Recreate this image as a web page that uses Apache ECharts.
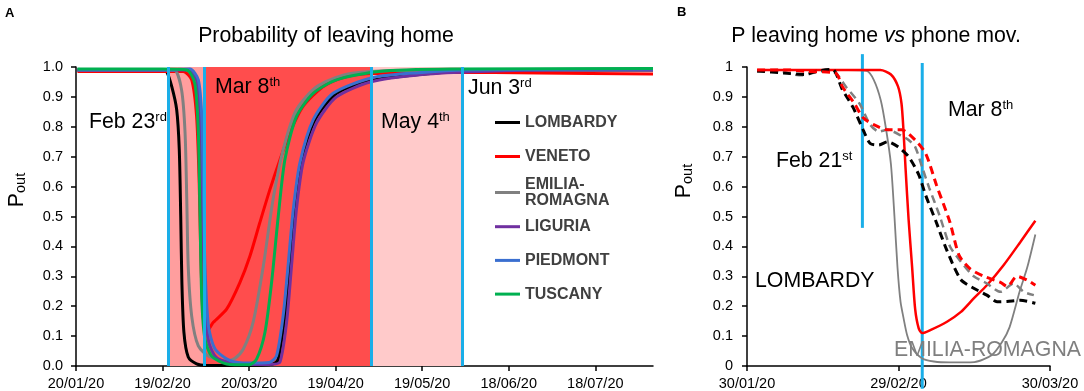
<!DOCTYPE html>
<html><head><meta charset="utf-8">
<script src="https://cdn.jsdelivr.net/npm/echarts@6/dist/echarts.min.js"></script>
<style>html,body{margin:0;padding:0;background:#fff}#c{width:1084px;height:391px}</style>
</head><body><div id="c"></div>
<script>
const FONT = '"Liberation Sans", Arial, Helvetica, sans-serif';

// ---------- Panel A: days since 20/01/20 ----------
const xTickLabelsA = ['20/01/20','19/02/20','20/03/20','19/04/20','19/05/20','18/06/20','18/07/20'];
const regionNames = ['LOMBARDY','VENETO','EMILIA-\nROMAGNA','LIGURIA','PIEDMONT','TUSCANY'];
const regionColors = ['#000000','#ff0000','#808080','#7030a0','#3a6fd0','#00b050'];
const eventDaysA = [32, 44.4, 102.3, 134];
const phaseColorsA = ['#ff9e9e','#ff4d4d','#ffcaca'];

const lombardyA = [[0.5,0.99],[20,0.99],[30,0.99],[31.4,0.985],[33.2,0.934],[34.9,0.857],[35.8,0.723],[36.3,0.5],[36.7,0.28],[37.4,0.113],[38.9,0.03],[41.8,0.007],[45,0.002],[60,0.002],[67,0.004],[69,0.01],[70.1,0.023],[72.4,0.168],[74.1,0.334],[75.8,0.523],[78.2,0.69],[82.8,0.823],[90.3,0.912],[102,0.955],[119,0.975],[133,0.985],[160,0.99],[200,0.99]];
const venetoA = [[0.5,0.985],[30,0.985],[37.2,0.985],[40.1,0.957],[41.8,0.834],[42.7,0.613],[43.2,0.39],[43.9,0.19],[44.6,0.125],[45.3,0.115],[47.6,0.146],[52.2,0.19],[56.8,0.279],[60.3,0.368],[63.7,0.479],[67.2,0.59],[70.7,0.69],[74.1,0.779],[78.7,0.868],[85.6,0.934],[92.6,0.965],[102,0.978],[130,0.982],[160,0.98],[200,0.977]];
const emiliaA = [[0.5,0.99],[30,0.99],[34.3,0.988],[36.6,0.923],[37.8,0.78],[38.4,0.557],[38.9,0.333],[40.1,0.167],[42.4,0.067],[46.4,0.03],[52.2,0.017],[55,0.025],[58,0.057],[61.4,0.147],[64.9,0.333],[68.3,0.557],[71.8,0.723],[76.4,0.857],[83.4,0.934],[92.6,0.973],[102,0.985],[120,0.99],[200,0.993]];
const liguriaA = [[0.5,0.99],[30,0.99],[39,0.99],[41.8,0.955],[43,0.834],[43.6,0.613],[44.1,0.39],[44.8,0.19],[46,0.08],[48.5,0.03],[53,0.012],[60,0.005],[68,0.006],[70.7,0.013],[73,0.147],[74.7,0.334],[76.4,0.523],[78.7,0.68],[83.4,0.813],[90.3,0.9],[102,0.95],[120,0.975],[140,0.985],[170,0.99],[200,0.99]];
const piedmontA = [[0.5,0.99],[30,0.99],[39.5,0.993],[42.4,0.957],[43.6,0.834],[44.1,0.613],[44.7,0.334],[45.9,0.134],[48.2,0.057],[53.4,0.018],[60,0.01],[67,0.012],[69.5,0.034],[71.8,0.168],[73.5,0.334],[75.3,0.523],[77.6,0.679],[82.2,0.823],[89.1,0.912],[103,0.965],[120,0.982],[135,0.99],[200,0.993]];
const tuscanyA = [[0.5,0.993],[30,0.993],[38.4,0.99],[41.2,0.945],[42.4,0.78],[43,0.5],[43.6,0.223],[44.7,0.09],[47,0.033],[52.2,0.007],[60,0.004],[62.6,0.023],[65.5,0.113],[67.8,0.28],[70.1,0.5],[72.4,0.69],[76.4,0.834],[82.2,0.912],[90.3,0.957],[105,0.985],[130,0.993],[200,0.995]];

// ---------- Panel B: days since 30/01/20 ----------
const xTickLabelsB = ['30/01/20','29/02/20','30/03/20'];
const feb21LineB = [[22.85,1.043],[22.85,0.462]];
const mar8LineB = [[34.7,1.013],[34.7,-0.076]];
const venetoModelB = [[2,0.99],[20,0.99],[26.4,0.99],[28.5,0.975],[29.9,0.935],[30.6,0.877],[31,0.784],[31.4,0.66],[32,0.49],[32.7,0.33],[33.3,0.19],[34,0.126],[34.7,0.11],[36.3,0.12],[39.6,0.148],[42.3,0.18],[44.9,0.226],[47.5,0.27],[50.8,0.337],[54.1,0.414],[57.1,0.486]];
const emiliaModelB = [[2,0.99],[20,0.99],[23.7,0.987],[25.1,0.957],[26.5,0.888],[27.5,0.796],[28.5,0.675],[29.2,0.5],[29.8,0.33],[30.4,0.215],[31,0.16],[31.7,0.104],[32.7,0.06],[34.7,0.025],[37,0.015],[40.2,0.012],[45,0.013],[48.5,0.037],[50.5,0.08],[52,0.13],[54,0.25],[55.5,0.33],[57.1,0.44]];
const lombardyDataB = [[2,0.987],[7.2,0.98],[11.4,0.975],[14.1,0.987],[16.9,0.992],[18.9,0.924],[21,0.865],[23,0.79],[24.4,0.744],[26.1,0.739],[27.8,0.75],[29.9,0.733],[32,0.70],[34,0.64],[35.4,0.57],[37.5,0.48],[39.5,0.39],[42.3,0.29],[44.9,0.26],[47.5,0.237],[49.5,0.215],[51.5,0.216],[54.1,0.22],[57.1,0.21]];
const venetoDataB = [[2,0.99],[8,0.99],[12,0.985],[17.5,0.98],[18.9,0.934],[21.3,0.877],[23,0.83],[25.1,0.807],[27.8,0.79],[30.6,0.79],[33.3,0.756],[35.4,0.71],[37.5,0.606],[40.2,0.48],[42,0.37],[44.2,0.325],[46.9,0.30],[50.2,0.28],[51.5,0.266],[53.5,0.30],[55.5,0.287],[57.1,0.27]];
const emiliaDataB = [[2,0.985],[6,0.99],[9,0.975],[11,0.972],[13,0.98],[15,0.985],[17.5,0.98],[19.6,0.934],[22.3,0.877],[24.4,0.807],[26.1,0.784],[27.8,0.79],[30.6,0.77],[32,0.756],[33.3,0.733],[34.7,0.664],[36.1,0.595],[38.2,0.50],[40.2,0.40],[42.3,0.35],[44.9,0.30],[47.5,0.276],[50.2,0.248],[52.8,0.276],[54.8,0.248],[56.8,0.237]];

const BLUE = '#1aaee8';
const chart = echarts.init(document.getElementById('c'), null, {renderer:'canvas'});

const axisLineStyle = {lineStyle:{color:'#000', width:1.5}};
const labelStyle = {color:'#000', fontSize:14.5, fontFamily:FONT};
const SMOOTH = 0.25;
const BIG = 21.3;

const series = [];
series.push({
  type:'line', xAxisIndex:0, yAxisIndex:0, data:[], z:1, silent:true,
  markArea:{silent:true, data:[
    [{xAxis:eventDaysA[0], itemStyle:{color:phaseColorsA[0]}},{xAxis:eventDaysA[1]}],
    [{xAxis:eventDaysA[1], itemStyle:{color:phaseColorsA[1]}},{xAxis:eventDaysA[2]}],
    [{xAxis:eventDaysA[2], itemStyle:{color:phaseColorsA[2]}},{xAxis:eventDaysA[3]}]
  ]},
  markLine:{silent:true, symbol:'none', label:{show:false}, lineStyle:{color:BLUE, width:3, type:'solid'},
    data: eventDaysA.map(d => ({xAxis:d}))}
});
const dataA = [lombardyA, venetoA, emiliaA, liguriaA, piedmontA, tuscanyA];
regionNames.forEach((n,i) => {
  series.push({name:n, type:'line', xAxisIndex:0, yAxisIndex:0, data:dataA[i], z:3,
    showSymbol:false, symbol:'none', smooth:SMOOTH,
    lineStyle:{color:regionColors[i], width:3}, itemStyle:{color:regionColors[i]}});
});
series.push({type:'line', xAxisIndex:1, yAxisIndex:1, data:feb21LineB, clip:false, symbol:'none', z:2, lineStyle:{color:BLUE, width:3}});
series.push({type:'line', xAxisIndex:1, yAxisIndex:1, data:mar8LineB, clip:false, symbol:'none', z:2, lineStyle:{color:BLUE, width:3}});
const bSeries = [
  [emiliaModelB, '#808080', 1.8, 'solid'],
  [venetoModelB, '#ff0000', 2.5, 'solid'],
  [emiliaDataB, '#808080', 2.5, [8,5]],
  [lombardyDataB, '#000000', 3, [8,5]],
  [venetoDataB, '#ff0000', 3, [8,5]]
];
bSeries.forEach(([d,c,w,t]) => {
  series.push({type:'line', xAxisIndex:1, yAxisIndex:1, data:d, z:3, symbol:'none', showSymbol:false,
    smooth:SMOOTH, lineStyle:{color:c, width:w, type:t}});
});

const legendBase = {orient:'vertical', left:495, padding:0, icon:'rect', itemWidth:25, itemHeight:3,
  selectedMode:false, textStyle:{fontSize:16, fontWeight:'bold', color:'#404040', fontFamily:FONT, lineHeight:18}};

const sup = {fontSize:13, lineHeight:13, verticalAlign:'top', fontFamily:FONT, fill:'#000'};
function ann(x, y, txt, color) {
  return {type:'text', x:x, y:y, z:10, style:{text:txt, fontSize:BIG, lineHeight:23, fontFamily:FONT,
    fill:color||'#000', align:'left', verticalAlign:'middle', rich:{s:sup}}};
}
function pout(x, y) {
  return {type:'text', x:x, y:y, rotation:Math.PI/2, z:10, style:{text:'{p|P}{s|out}', align:'center', verticalAlign:'middle',
    rich:{p:{fontSize:21.3, lineHeight:22, verticalAlign:'bottom', fontFamily:FONT, fill:'#000'},
          s:{fontSize:14.5, lineHeight:11, verticalAlign:'bottom', fontFamily:FONT, fill:'#000'}}}};
}

chart.setOption({
  animation:false,
  backgroundColor:'#fff',
  grid:[
    {left:76, right:431, top:67, bottom:24},
    {left:747, right:34, top:67, bottom:24}
  ],
  xAxis:[
    {type:'value', gridIndex:0, min:0, max:200, interval:30, splitLine:{show:false}, axisLine:axisLineStyle,
      axisTick:{length:5, lineStyle:{color:'#000', width:1.5}},
      axisLabel:Object.assign({margin:10, showMaxLabel:false, formatter: v => (v % 30 === 0 && xTickLabelsA[v/30]) || ''}, labelStyle)},
    {type:'value', gridIndex:1, min:0, max:60, interval:30, splitLine:{show:false}, axisLine:axisLineStyle,
      axisTick:{length:5, lineStyle:{color:'#000', width:1.5}},
      axisLabel:Object.assign({margin:10, formatter: v => xTickLabelsB[Math.round(v/30)] || ''}, labelStyle)}
  ],
  yAxis:[
    {type:'value', gridIndex:0, min:0, max:1, interval:0.1, splitLine:{show:false},
      axisLine:Object.assign({show:true}, axisLineStyle), axisTick:{show:true, length:5, lineStyle:{color:'#000', width:1.5}},
      axisLabel:Object.assign({margin:13, formatter: v => v.toFixed(1)}, labelStyle)},
    {type:'value', gridIndex:1, min:0, max:1, interval:0.1, splitLine:{show:false},
      axisLine:Object.assign({show:true}, axisLineStyle), axisTick:{show:true, length:5, lineStyle:{color:'#000', width:1.5}},
      axisLabel:Object.assign({margin:14, formatter: v => String(+v.toFixed(1))}, labelStyle)}
  ],
  legend:[
    Object.assign({}, legendBase, {data:[regionNames[0], regionNames[1]], top:113.5, itemGap:16}),
    Object.assign({}, legendBase, {data:[regionNames[2]], top:176, textStyle:Object.assign({}, legendBase.textStyle, {lineHeight:16.5})}),
    Object.assign({}, legendBase, {data:[regionNames[3], regionNames[4], regionNames[5]], top:217.7, itemGap:15.7})
  ],
  graphic:[
    {type:'text', x:5, y:13, style:{text:'A', fontSize:13, fontWeight:'bold', fontFamily:FONT, fill:'#000', verticalAlign:'middle'}},
    {type:'text', x:677, y:12, style:{text:'B', fontSize:13, fontWeight:'bold', fontFamily:FONT, fill:'#000', verticalAlign:'middle'}},
    {type:'text', x:326, y:36, style:{text:'Probability of leaving home', fontSize:BIG, fontFamily:FONT, fill:'#000', align:'center', verticalAlign:'middle'}},
    {type:'text', x:876, y:36, style:{text:'P leaving home {i|vs} phone mov.', fontSize:BIG, fontFamily:FONT, fill:'#000', align:'center', verticalAlign:'middle',
      rich:{i:{fontSize:BIG, fontStyle:'italic', fontFamily:FONT, fill:'#000'}}}},
    pout(17, 190),
    pout(684, 181),
    ann(89, 122, 'Feb 23{s|rd}'),
    ann(215, 87, 'Mar 8{s|th}'),
    ann(381, 122, 'May 4{s|th}'),
    ann(468, 88, 'Jun 3{s|rd}'),
    ann(948, 110, 'Mar 8{s|th}'),
    ann(776, 161, 'Feb 21{s|st}'),
    ann(755, 281, 'LOMBARDY'),
    ann(894, 350, 'EMILIA-ROMAGNA', '#7f7f7f')
  ],
  series: series
});
</script></body></html>
